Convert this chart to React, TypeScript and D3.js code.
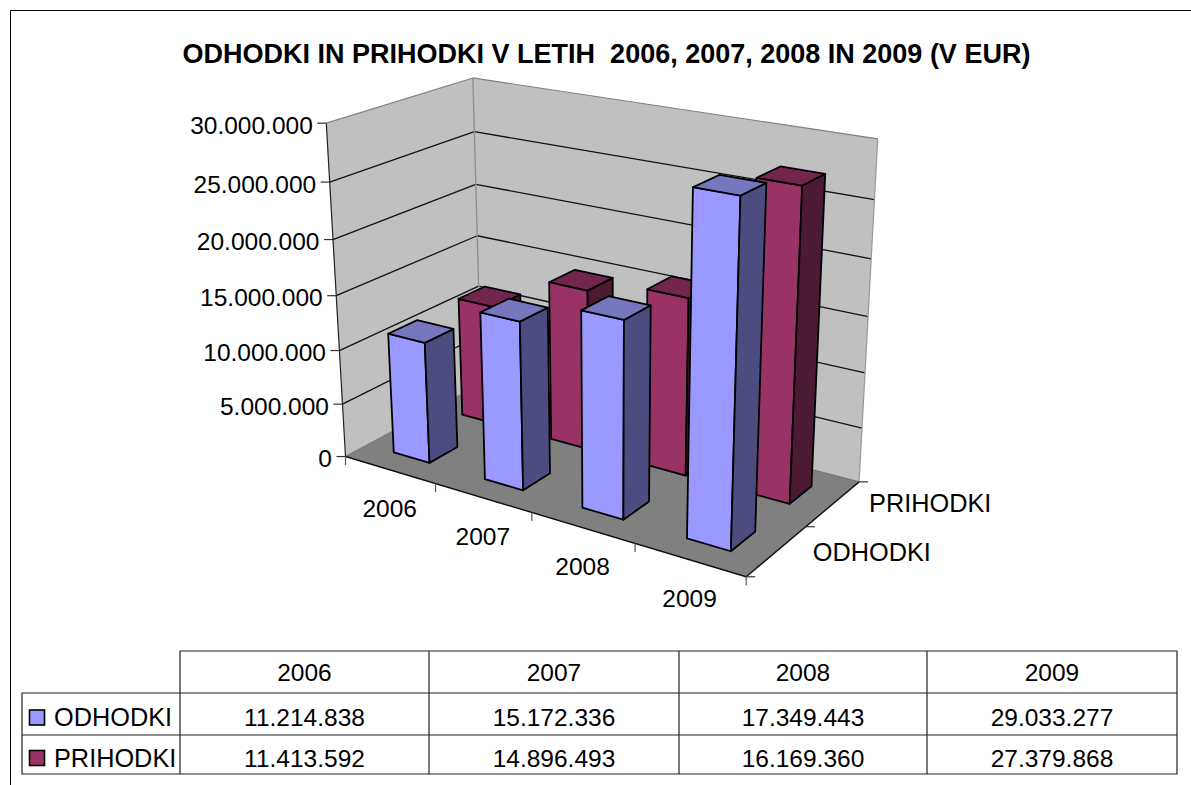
import React from "react";
import * as d3 from "d3";

const categories = ["2006", "2007", "2008", "2009"];
const seriesNames = ["ODHODKI", "PRIHODKI"];
const odhodki = [11214838, 15172336, 17349443, 29033277];
const prihodki = [11413592, 14896493, 16169360, 27379868];
const odhodkiLabels = ["11.214.838", "15.172.336", "17.349.443", "29.033.277"];
const prihodkiLabels = ["11.413.592", "14.896.493", "16.169.360", "27.379.868"];
const yTicks = [0, 5000000, 10000000, 15000000, 20000000, 25000000, 30000000];
const title = "ODHODKI IN PRIHODKI V LETIH  2006, 2007, 2008 IN 2009 (V EUR)";
const FONT = "'Liberation Sans', Arial, sans-serif";

// camera calibration: unit-cube corners -> picture positions
const anchors: [number, number, number, number, number][] = [
  [0, 0, 0, 345, 456.5],
  [1, 0, 0, 746, 577],
  [1, 0, 1, 859, 481.5],
  [0, 0, 1, 482, 384],
  [0, 1, 0, 327, 123],
  [0, 1, 1, 472, 78],
  [1, 1, 1, 878, 139],
];

function solveCamera() {
  const n = 11;
  const N = Array.from({ length: n }, () => new Array(n + 1).fill(0));
  const add = (r: number[], b: number) => {
    for (let i = 0; i < n; i++) {
      for (let j = 0; j < n; j++) N[i][j] += r[i] * r[j];
      N[i][n] += r[i] * b;
    }
  };
  for (const [x, y, z, u, v] of anchors) {
    add([x, y, z, 1, 0, 0, 0, 0, -u * x, -u * y, -u * z], u);
    add([0, 0, 0, 0, x, y, z, 1, -v * x, -v * y, -v * z], v);
  }
  for (let i = 0; i < n; i++) {
    let p = i;
    for (let k = i + 1; k < n; k++) if (Math.abs(N[k][i]) > Math.abs(N[p][i])) p = k;
    [N[i], N[p]] = [N[p], N[i]];
    for (let k = 0; k < n; k++) {
      if (k === i) continue;
      const f = N[k][i] / N[i][i];
      for (let j = i; j <= n; j++) N[k][j] -= f * N[i][j];
    }
  }
  return N.map((row, i) => row[n] / row[i]);
}
const M = solveCamera();
const project = (x: number, y: number, z: number): [number, number] => {
  const w = M[8] * x + M[9] * y + M[10] * z + 1;
  return [
    (M[0] * x + M[1] * y + M[2] * z + M[3]) / w,
    (M[4] * x + M[5] * y + M[6] * z + M[7]) / w,
  ];
};

const xBand = d3.scaleBand().domain(categories).range([0, 1]).paddingInner(0.6).paddingOuter(0.3);
const zBand = d3.scaleBand().domain(seriesNames).range([0, 1]).paddingInner(0.6).paddingOuter(0.3);
const yScale = d3.scaleLinear().domain([0, 30000000]).range([0, 1]);
const xEdge = d3.scaleLinear().domain([0, 4]).range([0, 1]);
const zEdge = d3.scaleLinear().domain([0, 2]).range([0, 1]);
const fmt = (v: number) => d3.format(",")(v).replace(/,/g, ".");

const line = d3.line();
const poly = (pts: [number, number, number][]) => line(pts.map((p) => project(p[0], p[1], p[2])))! + "Z";
const seg = (a: [number, number], b: [number, number], stroke: string, w = 1, key?: string) => (
  <line key={key} x1={a[0]} y1={a[1]} x2={b[0]} y2={b[1]} stroke={stroke} strokeWidth={w} />
);

const palette = [
  { front: "#9999ff", top: "#7777c0", side: "#4c4c80" },
  { front: "#993366", top: "#73264d", side: "#4c1a33" },
];
const seriesValues = [odhodki, prihodki];

const tableCols = [180, 429, 679, 927, 1177];
const tableRows = [651, 693, 735, 774];
const legendLeft = 22;

function Bar({ cat, ser, value }: { cat: string; ser: number; value: number }) {
  const x0 = xBand(cat)!;
  const x1 = x0 + xBand.bandwidth();
  const z0 = zBand(seriesNames[ser])!;
  const z1 = z0 + zBand.bandwidth();
  const h = yScale(value);
  const c = palette[ser];
  const props = { stroke: "#000", strokeWidth: 1.8, strokeLinejoin: "round" as const };
  return (
    <g>
      <path d={poly([[x0, 0, z0], [x1, 0, z0], [x1, h, z0], [x0, h, z0]])} fill={c.front} {...props} />
      <path d={poly([[x1, 0, z0], [x1, 0, z1], [x1, h, z1], [x1, h, z0]])} fill={c.side} {...props} />
      <path d={poly([[x0, h, z0], [x1, h, z0], [x1, h, z1], [x0, h, z1]])} fill={c.top} {...props} />
    </g>
  );
}

export default function App() {
  return (
    <svg
      width={1191}
      height={785}
      viewBox="0 0 1191 785"
      style={{ position: "fixed", left: 0, top: 0, background: "#fff" }}
      fontFamily={FONT}
      fill="#000"
    >
      {/* frame */}
      <path d="M10.5 785V10.5H1191" fill="none" stroke="#000" strokeWidth={1} />
      <text x={606.5} y={63} textAnchor="middle" fontSize={27} fontWeight="bold" xmlSpace="preserve">
        {title}
      </text>

      {/* walls and floor */}
      <path d={poly([[0, 0, 0], [0, 1, 0], [0, 1, 1], [0, 0, 1]])} fill="#c0c0c0" />
      <path d={poly([[0, 0, 1], [0, 1, 1], [1, 1, 1], [1, 0, 1]])} fill="#c0c0c0" />
      <path d={poly([[0, 0, 0], [1, 0, 0], [1, 0, 1], [0, 0, 1]])} fill="#808080" />

      {yTicks.filter((t) => t > 0 && t < 30000000).map((t) => {
        const y = yScale(t);
        return (
          <g key={t}>
            {seg(project(0, y, 0), project(0, y, 1), "#111", 1.3)}
            {seg(project(0, y, 1), project(1, y, 1), "#111", 1.3)}
          </g>
        );
      })}
      {/* wall edges */}
      {seg(project(0, 1, 0), project(0, 1, 1), "#808080", 1.2)}
      {seg(project(0, 1, 1), project(1, 1, 1), "#808080", 1.2)}
      {seg(project(1, 1, 1), project(1, 0, 1), "#999", 1.2)}
      {seg(project(0, 0, 1), project(0, 1, 1), "#909090", 1.4)}
      {seg(project(0, 0, 0), project(0, 0, 1), "#777", 1.2)}
      {seg(project(0, 0, 1), project(1, 0, 1), "#777", 1.2)}
      {seg(project(0, 0, 0), project(0, 1, 0), "#222", 1.2)}
      {seg(project(0, 0, 0), project(1, 0, 0), "#111", 1.4)}
      {seg(project(1, 0, 0), project(1, 0, 1), "#111", 1.4)}

      {/* y ticks and labels */}
      {yTicks.map((t) => {
        const p = project(0, yScale(t), 0);
        return (
          <g key={t}>
            {seg([p[0] - 9, p[1]], p, "#333", 1.2)}
            <text x={p[0] - 13.5} y={p[1] + 10.5} textAnchor="end" fontSize={24.5}>
              {fmt(t)}
            </text>
          </g>
        );
      })}

      {/* x ticks and labels */}
      {d3.range(0, 5).map((i) => {
        const p = project(xEdge(i), 0, 0);
        return <g key={i}>{seg(p, [p[0], p[1] + 8.5], "#555", 1.2)}</g>;
      })}
      {categories.map((c, i) => {
        const p = project(xEdge(i + 0.5), 0, 0);
        return (
          <text key={c} x={p[0]} y={p[1] + 47} textAnchor="middle" fontSize={24.5}>
            {c}
          </text>
        );
      })}

      {/* depth ticks and labels */}
      {d3.range(0, 3).map((i) => {
        const p = project(1, 0, zEdge(i));
        return <g key={i}>{seg(p, [p[0] + 9, p[1]], "#333", 1.2)}</g>;
      })}
      {seriesNames.map((s, i) => {
        const p = project(1, 0, zEdge(i + 0.5));
        return (
          <text key={s} x={p[0] + 36} y={p[1] + [10, 8][i]} fontSize={25.3}>
            {s}
          </text>
        );
      })}

      {/* bars, back row first */}
      {[1, 0].map((ser) =>
        categories.map((c, i) => <Bar key={c + ser} cat={c} ser={ser} value={seriesValues[ser][i]} />)
      )}

      {/* data table */}
      <g stroke="#222" strokeWidth={1.2} fill="none">
        <path d={`M${tableCols[0]} ${tableRows[0]}H${tableCols[4]}V${tableRows[3]}H${legendLeft}V${tableRows[1]}H${tableCols[4]}`} />
        <path d={`M${legendLeft} ${tableRows[2]}H${tableCols[4]}`} />
        {tableCols.slice(0, 4).map((x) => (
          <path key={x} d={`M${x} ${tableRows[0]}V${tableRows[3]}`} />
        ))}
      </g>
      {categories.map((c, i) => (
        <text key={c} x={(tableCols[i] + tableCols[i + 1]) / 2} y={681} textAnchor="middle" fontSize={24.5}>
          {c}
        </text>
      ))}
      {[odhodkiLabels, prihodkiLabels].map((labels, r) => (
        <g key={r}>
          <rect x={29.5} y={[710, 750.5][r]} width={15} height={15} fill={palette[r].front} stroke="#000" strokeWidth={1.6} />
          <text x={54} y={[726, 767][r]} fontSize={25.3}>
            {seriesNames[r]}
          </text>
          {labels.map((l, i) => (
            <text key={l} x={(tableCols[i] + tableCols[i + 1]) / 2} y={[726, 767][r]} textAnchor="middle" fontSize={24.5}>
              {l}
            </text>
          ))}
        </g>
      ))}
    </svg>
  );
}
